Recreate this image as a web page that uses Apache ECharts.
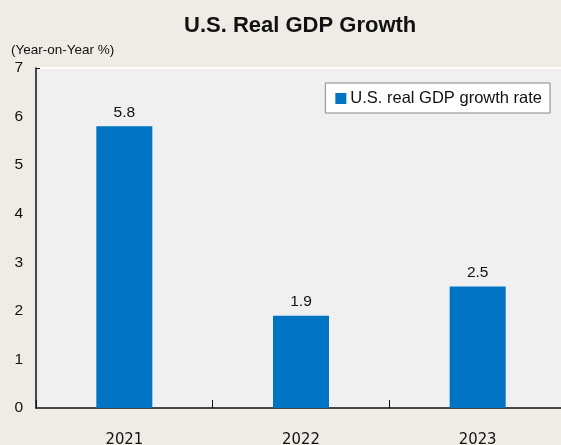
<!DOCTYPE html>
<html><head><meta charset="utf-8">
<script src="https://cdn.jsdelivr.net/npm/echarts@6/dist/echarts.min.js"></script>
<style>html,body{margin:0;padding:0;background:#efebe5;}#c{width:561px;height:445px;}</style>
</head><body><div id="c"></div>
<script>
const categories = ['2021', '2022', '2023'];
const growthValues = [5.8, 1.9, 2.5];
const seriesName = 'U.S. real GDP growth rate';
const chart = echarts.init(document.getElementById('c'));
chart.setOption({
  backgroundColor: '#efebe5',
  animation: false,
  title: {
    text: 'U.S. Real GDP Growth', left: 179, top: 10,
    textStyle: {fontFamily: 'Liberation Sans', fontSize: 22, fontWeight: 'bold', color: '#111'}
  },
  legend: {
    data: [{name: seriesName, icon: 'rect'}],
    right: 11, top: 83, orient: 'vertical',
    backgroundColor: '#fff', borderColor: '#888', borderWidth: 1,
    padding: [7, 8, 6, 10], itemWidth: 11, itemHeight: 11, itemGap: 0,
    textStyle: {fontFamily: 'Liberation Sans', fontSize: 16.5, color: '#111', padding: [0, 0, 0, -1]}
  },
  grid: {left: 36, top: 68, width: 530, height: 340, show: true, backgroundColor: '#f0f0f0', borderWidth: 0,
         containLabel: false, outerBoundsMode: 'none'},
  xAxis: {
    type: 'category', data: categories,
    axisLine: {lineStyle: {color: '#111', width: 1.5}},
    axisTick: {show: true, inside: true, length: 8, interval: 0, lineStyle: {color: '#111'}},
    axisLabel: {fontFamily: 'DejaVu Sans Condensed, Liberation Sans', fontSize: 16.5, color: '#111', margin: 23}
  },
  yAxis: {
    type: 'value', min: 0, max: 7, interval: 1,
    name: '(Year-on-Year %)', nameLocation: 'end', nameGap: 11,
    nameTextStyle: {fontFamily: 'Liberation Sans', fontSize: 13.5, color: '#111', align: 'left', padding: [0, 0, 0, -25]},
    axisLine: {show: true, lineStyle: {color: '#111', width: 1.5}},
    axisTick: {show: true, inside: true, length: 4, customValues: [7], lineStyle: {color: '#111'}},
    axisLabel: {fontFamily: 'Liberation Sans', fontSize: 15.5, color: '#111', margin: 13},
    splitLine: {lineStyle: {color: '#ffffff', width: 1.5}}
  },
  series: [{
    name: seriesName, type: 'bar', data: growthValues, barWidth: 56,
    itemStyle: {color: '#0074c2'},
    label: {show: true, position: 'top', distance: 6, fontFamily: 'Liberation Sans', fontSize: 15.5, color: '#111'}
  }]
});
</script></body></html>
